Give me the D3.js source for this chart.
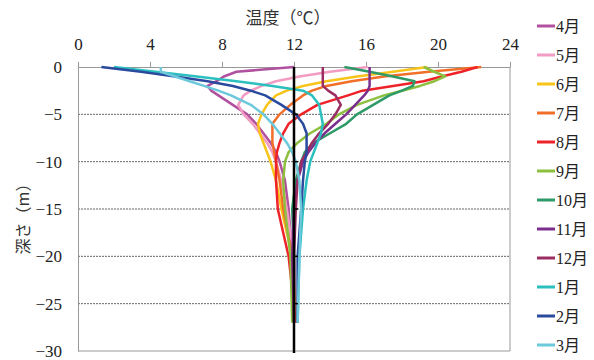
<!DOCTYPE html>
<html>
<head>
<meta charset="utf-8">
<script src="https://cdn.jsdelivr.net/npm/d3@7"></script>
<style>
body { margin: 0; background: #fff; }
</style>
</head>
<body>
<div id="chart"></div>
<script>
const depths = [0, -0.5, -1, -1.5, -2, -2.5, -3, -4, -5, -6, -7, -8, -9, -10, -12, -15, -20, -27];
const months = ["4月", "5月", "6月", "7月", "8月", "9月", "10月", "11月", "12月", "1月", "2月", "3月"];
const colors = ["#b0509f", "#f29cc3", "#f8c41a", "#f26f2a", "#ee2229", "#8dc03f", "#2e9a68", "#7b2e8e", "#9b2d62", "#2bbfbf", "#2a4a9e", "#6cc9dc"];
const apr = [12.0, 8.8, 8.1, 7.7, 7.2, 7.4, 7.8, 8.6, 9.4, 9.9, 10.3, 10.7, 11.0, 11.2, 11.5, 11.7, 11.9, 12.0];
const may = [16.1, 14.0, 12.3, 11.0, 10.2, 9.6, 9.2, 8.9, 9.2, 9.7, 10.1, 10.5, 10.8, 11.0, 11.3, 11.6, 12.0, 12.1];
const jun = [19.4, 17.5, 15.5, 13.8, 12.5, 11.6, 11.0, 10.5, 10.2, 10.0, 10.1, 10.3, 10.5, 10.7, 11.0, 11.3, 11.9, 12.1];
const jul = [22.4, 19.5, 17.0, 15.2, 13.8, 13.0, 12.5, 11.8, 11.2, 10.8, 10.8, 10.8, 10.9, 11.0, 11.2, 11.4, 11.9, 12.1];
const aug = [22.2, 21.3, 20.2, 19.2, 17.5, 15.8, 15.0, 13.3, 12.4, 11.7, 11.4, 11.2, 11.05, 11.0, 11.0, 11.1, 11.7, 12.1];
const sep = [19.2, 19.8, 20.4, 19.8, 19.0, 18.0, 17.0, 15.5, 14.5, 13.8, 12.9, 12.2, 11.7, 11.5, 11.4, 11.5, 11.8, 11.9];
const oct = [14.8, 16.2, 17.5, 18.7, 18.6, 18.0, 17.3, 16.4, 15.5, 14.9, 14.0, 13.1, 12.6, 12.4, 12.1, 11.9, 12.0, 12.0];
const nov = [16.2, 16.2, 16.2, 16.2, 16.2, 16.1, 15.9, 15.4, 14.9, 14.3, 13.7, 13.2, 12.8, 12.5, 12.2, 12.0, 11.9, 12.0];
const dec = [13.6, 13.6, 13.6, 13.6, 13.6, 13.9, 14.3, 14.6, 14.3, 13.9, 13.4, 13.0, 12.7, 12.4, 12.2, 12.1, 12.0, 12.0];
const jan = [2.0, 4.3, 6.6, 8.8, 10.8, 12.5, 13.0, 13.4, 13.5, 13.6, 13.5, 13.3, 13.1, 12.9, 12.7, 12.5, 12.3, 12.2];
const feb = [1.3, 3.5, 5.4, 7.2, 8.6, 9.6, 10.4, 11.3, 12.1, 12.5, 12.7, 12.7, 12.7, 12.6, 12.5, 12.4, 12.2, 12.2];
const mar = [4.6, 4.6, 5.4, 6.2, 7.0, 7.8, 8.5, 9.6, 10.3, 10.8, 11.2, 11.6, 11.9, 12.1, 12.3, 12.4, 12.3, 12.2];
const series = [apr, may, jun, jul, aug, sep, oct, nov, dec, jan, feb, mar];
const xTicks = [0, 4, 8, 12, 16, 20, 24];
const yTicks = [0, -5, -10, -15, -20, -25, -30];
const gridDepths = [-5, -10, -15, -20, -25];
const refTemp = 12;

const serifFont = "'Liberation Serif', 'Times New Roman', 'DejaVu Serif', serif";

const width = 594, height = 360;
const margin = { top: 67, right: 84, bottom: 9, left: 78 };

const svg = d3.select("#chart").append("svg")
    .attr("width", width)
    .attr("height", height);

const x = d3.scaleLinear().domain([0, 24]).range([margin.left, width - margin.right]);
const y = d3.scaleLinear().domain([0, -30]).range([margin.top, height - margin.bottom]);

// dashed grid
svg.selectAll(".grid")
    .data(gridDepths)
    .enter()
    .append("line")
    .attr("x1", x(0)).attr("x2", x(24))
    .attr("y1", d => y(d)).attr("y2", d => y(d))
    .attr("stroke", "#666")
    .attr("stroke-width", 1)
    .attr("stroke-dasharray", "2,1");

// frame: bottom and right
svg.append("line")
    .attr("x1", x(0)).attr("x2", x(24))
    .attr("y1", y(-30)).attr("y2", y(-30))
    .attr("stroke", "#999");
svg.append("line")
    .attr("x1", x(24)).attr("x2", x(24))
    .attr("y1", y(0)).attr("y2", y(-30))
    .attr("stroke", "#999");

// top axis
const xAxis = svg.append("g")
    .attr("transform", `translate(0,${y(0)})`)
    .call(d3.axisTop(x).tickValues(xTicks).tickSize(5).tickPadding(12).tickSizeOuter(0))
    .attr("font-family", serifFont)
    .attr("font-size", 17);
xAxis.select(".domain").attr("stroke", "#999");
xAxis.selectAll(".tick line").attr("stroke", "#999");
xAxis.selectAll("text").attr("fill", "#222");

// left axis
const yAxis = svg.append("g")
    .attr("transform", `translate(${x(0)},0)`)
    .call(d3.axisLeft(y).tickValues(yTicks).tickSize(0).tickPadding(16))
    .attr("font-family", serifFont)
    .attr("font-size", 17);
yAxis.select(".domain").attr("stroke", "#999");
yAxis.selectAll("text").attr("fill", "#222");

// lines
const line = d3.line()
    .x(d => x(d[0]))
    .y(d => y(d[1]));

svg.selectAll(".month")
    .data(series)
    .enter()
    .append("path")
    .attr("class", "month")
    .attr("fill", "none")
    .attr("stroke", (d, i) => colors[i])
    .attr("stroke-width", 2.5)
    .attr("stroke-linejoin", "round")
    .attr("d", d => line(d.map((t, j) => [t, depths[j]])));

// 12 degree reference line
svg.append("line")
    .attr("x1", x(refTemp)).attr("x2", x(refTemp))
    .attr("y1", y(0)).attr("y2", y(-30) + 2)
    .attr("stroke", "#000")
    .attr("stroke-width", 2.5);
svg.selectAll(".reftick")
    .data(gridDepths)
    .enter()
    .append("line")
    .attr("x1", x(refTemp)).attr("x2", x(refTemp) + 4)
    .attr("y1", d => y(d)).attr("y2", d => y(d))
    .attr("stroke", "#000")
    .attr("stroke-width", 1.5);

// titles
svg.append("text")
    .attr("x", 288)
    .attr("y", 24)
    .attr("text-anchor", "middle")
    .attr("font-family", "'Noto Sans CJK JP', sans-serif")
    .attr("font-size", 17)
    .attr("fill", "#333")
    .text("温度（℃）");

svg.append("text")
    .attr("transform", "translate(29,215) rotate(-90)")
    .attr("text-anchor", "middle")
    .attr("font-family", "'Noto Sans CJK JP', sans-serif")
    .attr("font-size", 16)
    .attr("fill", "#333")
    .text("深さ（m）");

// legend
const legend = svg.selectAll(".legend")
    .data(months)
    .enter()
    .append("g")
    .attr("transform", (d, i) => `translate(537,${26 + i * 29})`);
legend.append("line")
    .attr("x1", 0).attr("x2", 18)
    .attr("stroke", (d, i) => colors[i])
    .attr("stroke-width", 3);
legend.append("text")
    .attr("x", 19)
    .attr("dy", "0.36em")
    .attr("font-family", serifFont + ", 'Noto Sans CJK JP'")
    .attr("font-size", 16)
    .attr("fill", "#222")
    .text(d => d);
</script>
</body>
</html>
